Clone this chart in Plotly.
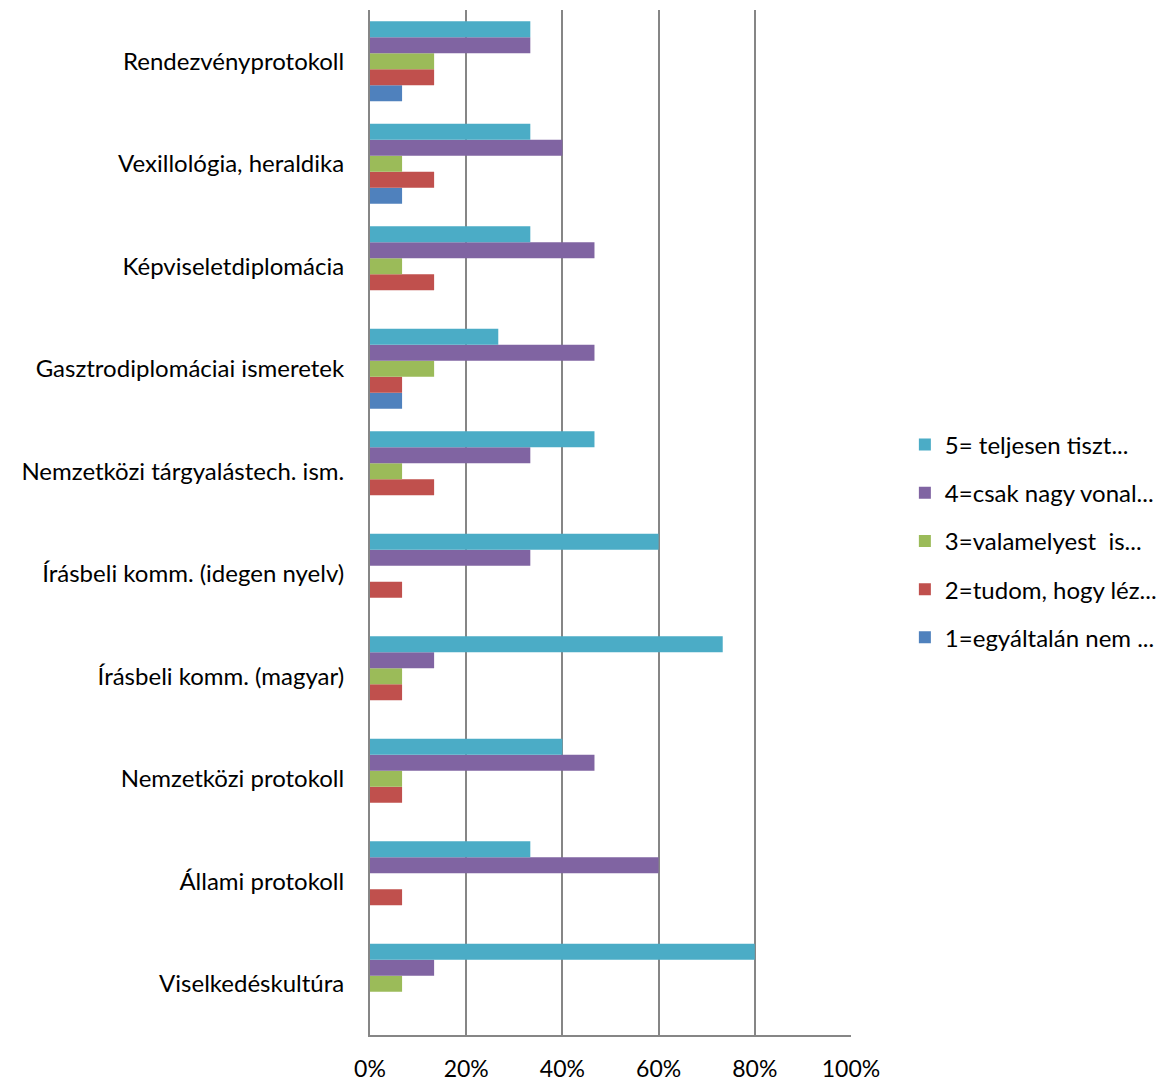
import plotly.graph_objects as go

categories = [
    "Viselkedéskultúra",
    "Állami protokoll",
    "Nemzetközi protokoll",
    "Írásbeli komm. (magyar)",
    "Írásbeli komm. (idegen nyelv)",
    "Nemzetközi tárgyalástech. ism.",
    "Gasztrodiplomáciai ismeretek",
    "Képviseletdiplomácia",
    "Vexillológia, heraldika",
    "Rendezvényprotokoll",
]

series_names = [
    "1=egyáltalán nem ...",
    "2=tudom, hogy léz...",
    "3=valamelyest  is...",
    "4=csak nagy vonal...",
    "5= teljesen tiszt...",
]

s1 = [0, 0, 0, 0, 0, 0, 6.67, 0, 6.67, 6.67]
s2 = [0, 6.67, 6.67, 6.67, 6.67, 13.33, 6.67, 13.33, 13.33, 13.33]
s3 = [6.67, 0, 6.67, 6.67, 0, 6.67, 13.33, 6.67, 6.67, 13.33]
s4 = [13.33, 60, 46.67, 13.33, 33.33, 33.33, 46.67, 46.67, 40, 33.33]
s5 = [80, 33.33, 40, 73.33, 60, 46.67, 26.67, 33.33, 33.33, 33.33]

values = [s1, s2, s3, s4, s5]
colors = ["#4F81BD", "#C0504D", "#9BBB59", "#8064A2", "#4BACC6"]

fig = go.Figure()
for i, (name, vals) in enumerate(zip(series_names, values)):
    fig.add_trace(go.Bar(
        y=categories,
        x=[(v / 100) if v else None for v in vals],
        name=name,
        orientation="h",
        marker=dict(color=colors[i], line=dict(width=0)),
        legendgroup=f"g{i}",
        legendrank=len(series_names) - i,
    ))

font_family = "Lato, Open Sans, sans-serif"
fs = 24

fig.update_layout(
    width=1161,
    height=1075,
    barmode="group",
    bargap=0.22,
    bargroupgap=0,
    plot_bgcolor="white",
    paper_bgcolor="white",
    margin=dict(l=362, r=318, t=2, b=48, autoexpand=False),
    font=dict(family=font_family, size=fs, color="#000000"),
    legend=dict(
        x=1.112, y=0.482, xanchor="left", yanchor="middle",
        traceorder="grouped", tracegroupgap=14,
        font=dict(family=font_family, size=24, color="#000000"),
        bgcolor="rgba(0,0,0,0)",
    ),
    xaxis=dict(
        range=[0, 1],
        tickvals=[0, 0.2, 0.4, 0.6, 0.8, 1.0],
        tickformat=".0%",
        showgrid=True,
        gridcolor="#868686",
        gridwidth=2,
        zeroline=False,
        showline=True,
        linecolor="#868686",
        linewidth=2,
        ticks="",
        ticklabelstandoff=12,
        automargin=False,
        tickfont=dict(family=font_family, size=23, color="#000000"),
    ),
    yaxis=dict(
        showgrid=False,
        zeroline=False,
        showline=True,
        linecolor="#868686",
        linewidth=2,
        ticks="",
        ticklabelstandoff=19,
        automargin=False,
        tickfont=dict(family=font_family, size=fs, color="#000000"),
    ),
)

fig.write_html("out.html")
